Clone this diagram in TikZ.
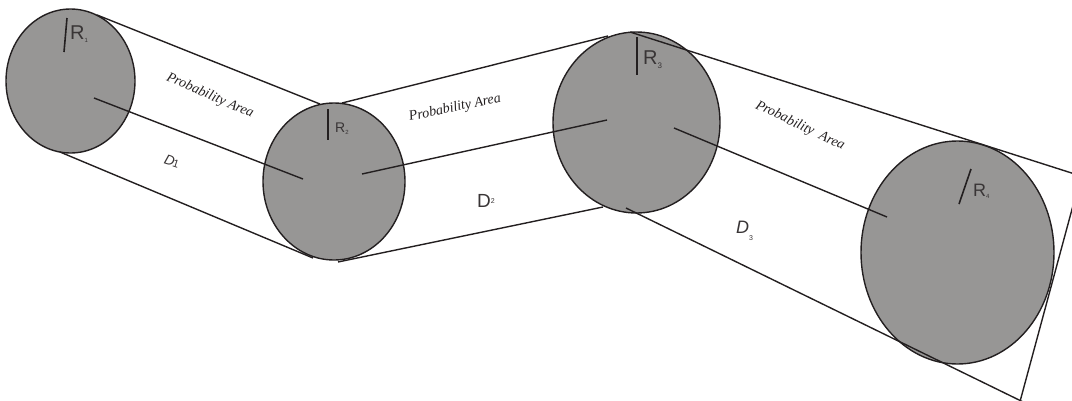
\documentclass[tikz,border=0pt]{standalone}
\usepackage{fontspec}
\setmainfont{Liberation Serif}
\setsansfont{Liberation Sans}
\usetikzlibrary{shapes.geometric}
\definecolor{ballgray}{RGB}{151,150,149}
\definecolor{inkline}{RGB}{35,31,32}
\begin{document}
\begin{tikzpicture}[x=1pt,y=-1pt,
  ball/.style={ellipse,draw=inkline,fill=ballgray,line width=1.4pt,inner sep=0pt,outer sep=0pt},
  edge/.style={draw=inkline,line width=1.4pt},
  tick/.style={draw=inkline,line width=1.6pt},
  rlab/.style={font=\sffamily,text=inkline!90,inner sep=0pt,anchor=base west},
  dlab/.style={font=\sffamily,text=inkline!90,inner sep=0pt,anchor=base west},
  prob/.style={font=\rmfamily\itshape\fontsize{14}{14}\selectfont,text=inkline,inner sep=0pt}]
\useasboundingbox (0,0) rectangle (1072,400);
\clip (0,0) rectangle (1072,400);
% balls
\node[ball,minimum width=129pt,minimum height=144pt] (c1) at (70.5,81) {};
\node[ball,minimum width=142pt,minimum height=157pt] (c2) at (334,181.5) {};
\node[ball,minimum width=167pt,minimum height=181pt] (c3) at (636.5,122.5) {};
\node[ball,minimum width=193pt,minimum height=223pt] (c4) at (957.5,252.5) {};
% band corner coordinates
\coordinate (a1) at (97,15);   \coordinate (b1) at (320,104);
\coordinate (a2) at (60,152);  \coordinate (b2) at (313,258);
\coordinate (a3) at (342,103); \coordinate (b3) at (608,36);
\coordinate (a4) at (338,262); \coordinate (b4) at (603,207);
\coordinate (a5) at (630,32);  \coordinate (k1) at (1081,176);
\coordinate (a6) at (626,208); \coordinate (k3) at (1015,420);
\coordinate (k4) at (1058,419);
% band edges
\draw[edge] (a1) -- (b1);
\draw[edge] (a2) -- (b2);
\draw[edge] (a3) -- (b3);
\draw[edge] (a4) -- (b4);
\draw[edge] (a5) -- (k1) -- (k3);
\draw[edge] (a6) -- (k4);
% distance lines
\coordinate (d1s) at (94,98);   \coordinate (d1e) at (303,179);
\coordinate (d2s) at (362,174); \coordinate (d2e) at (607,120);
\coordinate (d3s) at (674,128); \coordinate (d3e) at (887,217);
\draw[edge] (d1s) -- (d1e);
\draw[edge] (d2s) -- (d2e);
\draw[edge] (d3s) -- (d3e);
% radius ticks
\coordinate (r1s) at (67,18);   \coordinate (r1e) at (64,52);
\coordinate (r2s) at (328,109); \coordinate (r2e) at (328,140);
\coordinate (r3s) at (637,37);  \coordinate (r3e) at (637,75);
\coordinate (r4s) at (971,169); \coordinate (r4e) at (959,204);
\draw[tick] (r1s) -- (r1e);
\draw[tick] (r2s) -- (r2e);
\draw[tick] (r3s) -- (r3e);
\draw[tick] (r4s) -- (r4e);
% R labels
\node[rlab,font=\sffamily\fontsize{20}{20}\selectfont] (R1) at (70,39) {R\raisebox{-3pt}{\fontsize{6}{6}\selectfont 1}};
\node[rlab,font=\sffamily\fontsize{14}{14}\selectfont] (R2) at (335,132) {R\raisebox{-2pt}{\fontsize{6}{6}\selectfont 2}};
\node[rlab,font=\sffamily\fontsize{20}{20}\selectfont] (R3) at (643,64) {R\raisebox{-4pt}{\fontsize{8}{8}\selectfont 3}};
\node[rlab,font=\sffamily\fontsize{18}{18}\selectfont] (R4) at (973,196) {R\raisebox{-2pt}{\fontsize{6}{6}\selectfont 4}};
% D labels
\node[dlab,font=\sffamily\itshape\fontsize{14}{14}\selectfont,rotate=-18,anchor=center] (D1) at (172,161) {D\kern-1pt{\upshape\fontsize{11}{11}\selectfont 1}};
\node[dlab,font=\sffamily\fontsize{19}{19}\selectfont] (D2) at (477,207) {D\raisebox{4pt}{\fontsize{7}{7}\selectfont 2}};
\node[dlab,font=\sffamily\itshape\fontsize{18}{18}\selectfont] (D3) at (736,233) {D\raisebox{-7pt}{\upshape\fontsize{7}{7}\selectfont 3}};
% probability area labels
\node[prob,rotate=-23.5] (p1) at (210,96) {Probability Area};
\node[prob,rotate=12] (p2) at (455,108) {Probability Area};
\node[prob,rotate=-25.5] (p3) at (800,126) {Probability\ \ Area};
\end{tikzpicture}
\end{document}
